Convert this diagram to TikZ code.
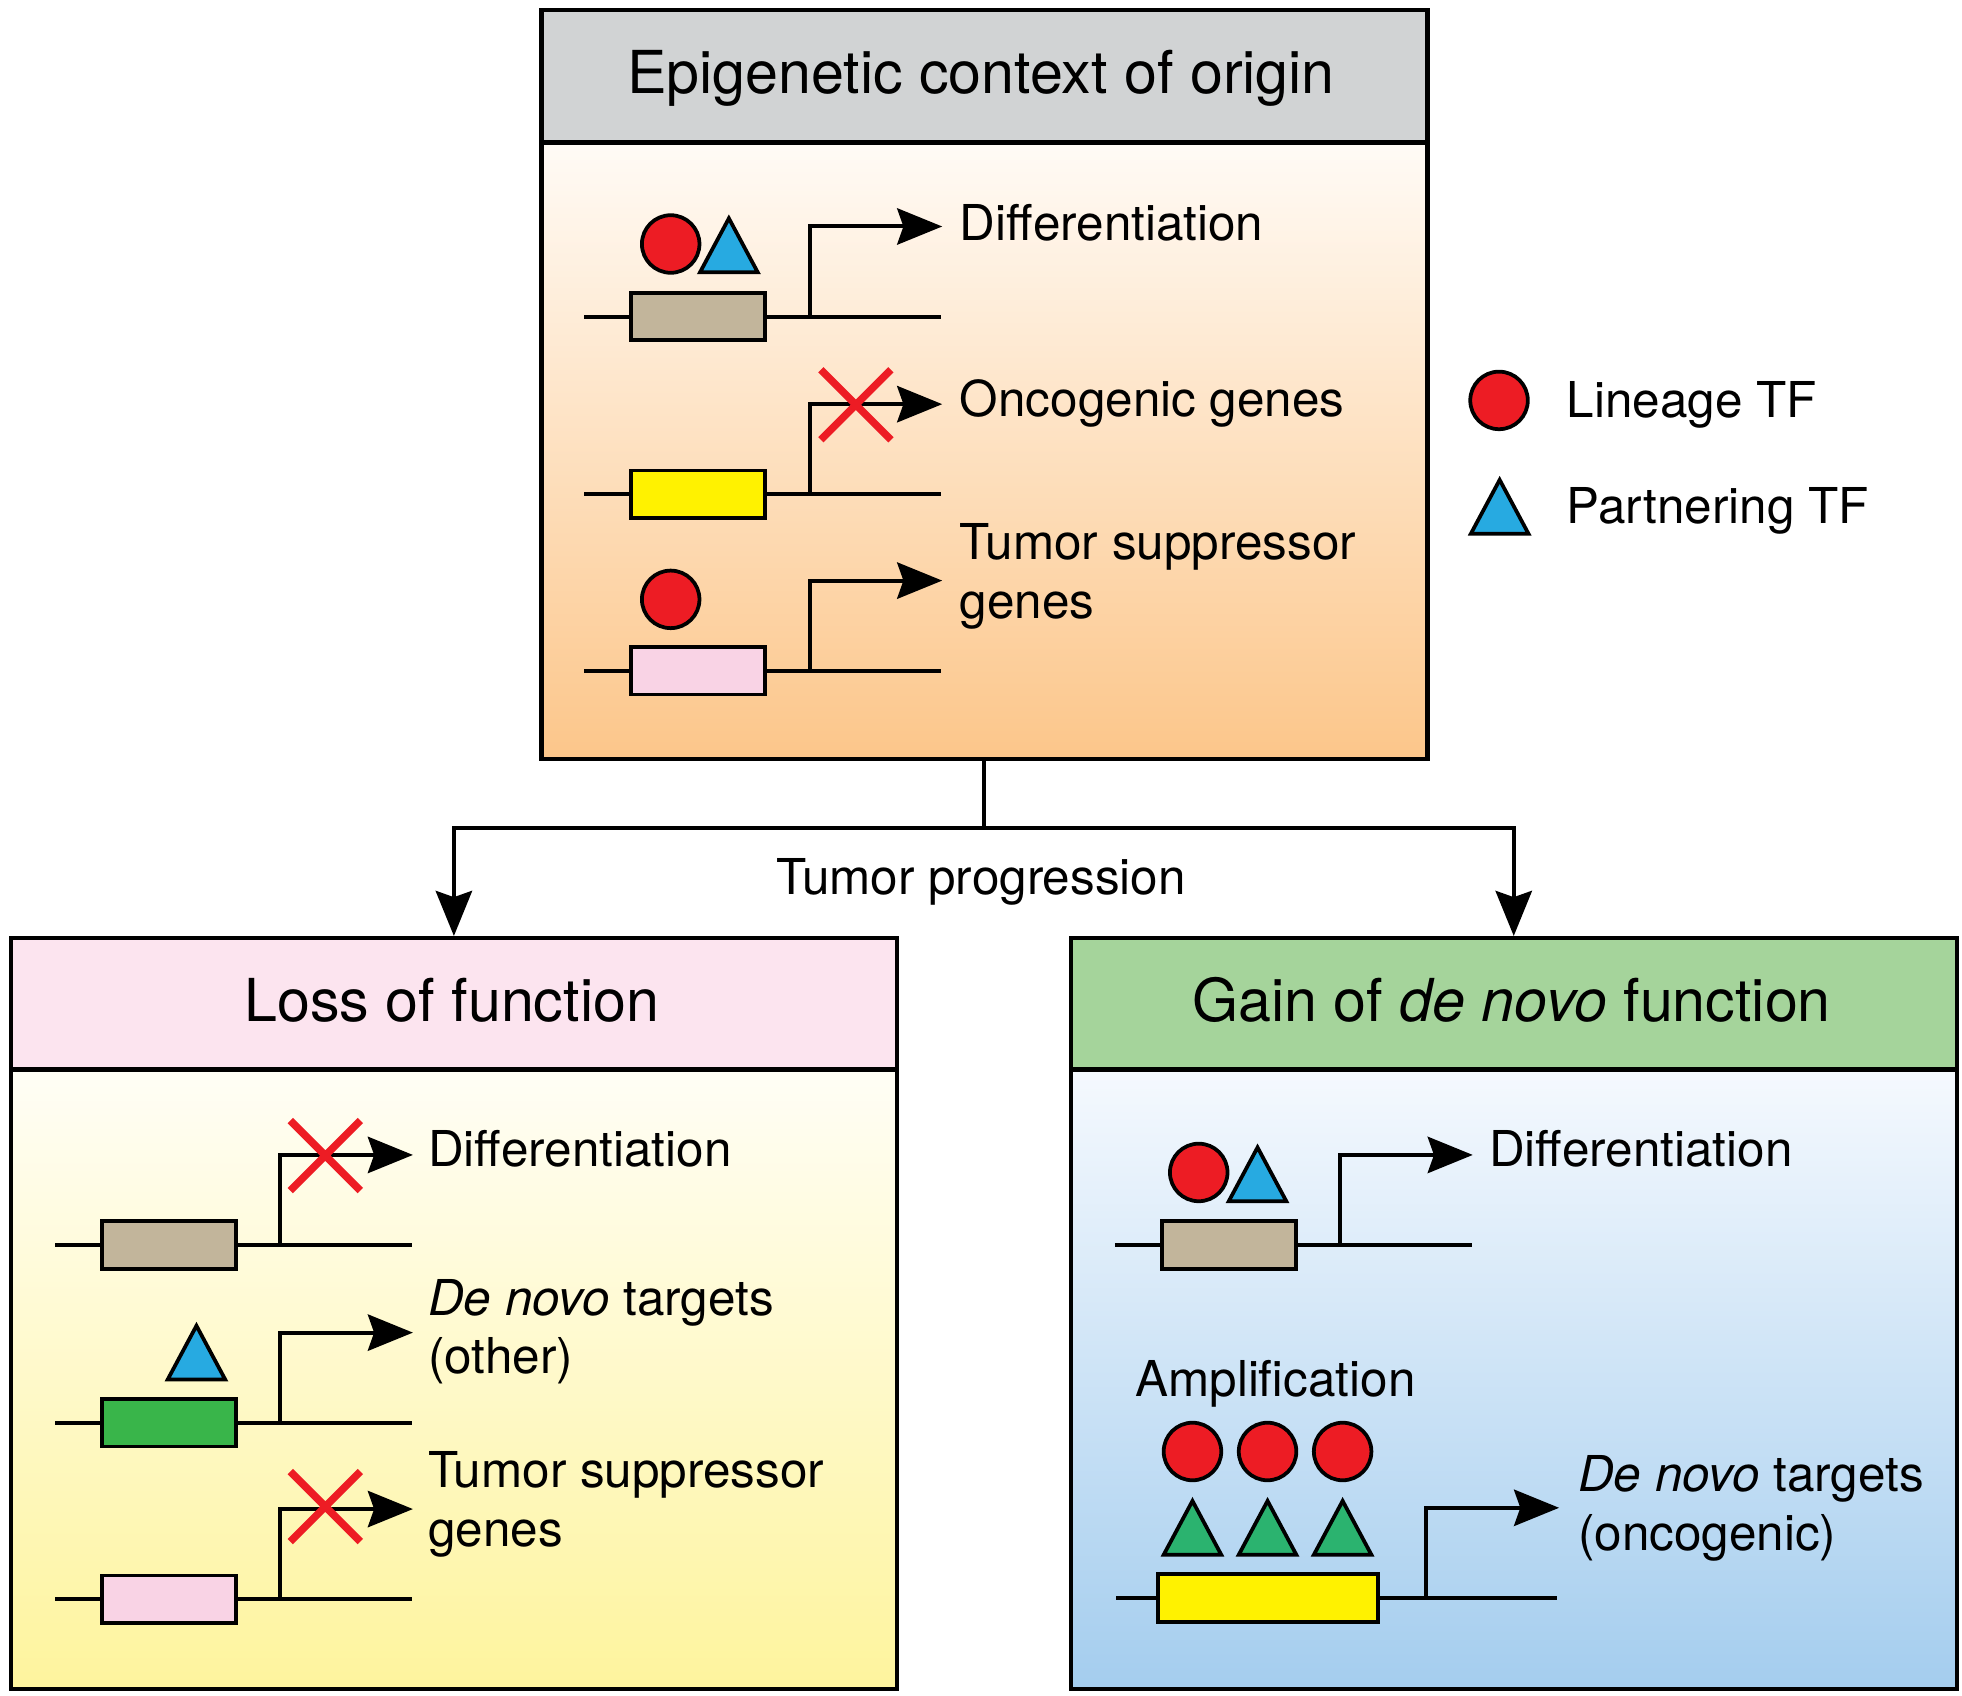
\documentclass[tikz,border=0pt]{standalone}
\usepackage{fontspec}
\setmainfont{TeX Gyre Heros}
\usetikzlibrary{arrows.meta, shapes.misc, positioning, calc}
\definecolor{headgray}{HTML}{D1D3D4}
\definecolor{topA}{HTML}{FFFBF6}
\definecolor{topB}{HTML}{FCC68A}
\definecolor{losshd}{HTML}{FCE4EF}
\definecolor{lossA}{HTML}{FFFEF6}
\definecolor{lossB}{HTML}{FEF49D}
\definecolor{gainhd}{HTML}{A5D49B}
\definecolor{gainA}{HTML}{F5F9FE}
\definecolor{gainB}{HTML}{A4CDEE}
\definecolor{tan}{HTML}{C2B59B}
\definecolor{yel}{HTML}{FFF200}
\definecolor{pnk}{HTML}{F9D3E5}
\definecolor{grn}{HTML}{39B54A}
\definecolor{tfred}{HTML}{ED1C24}
\definecolor{tfblue}{HTML}{27AAE1}
\definecolor{tfgreen}{HTML}{2BB36F}
\tikzstyle{panel}=[shape=rectangle, draw=black, line width=3.5pt, minimum width=708pt, inner sep=0pt, anchor=north west]
\tikzstyle{genebox}=[shape=rectangle, draw=black, line width=3pt, minimum width=107pt, minimum height=38pt, inner sep=0pt]
\tikzstyle{ltf}=[shape=circle, draw=black, fill=tfred, line width=3pt, minimum size=46pt, inner sep=0pt]
\tikzstyle{ptf}=[draw=black, fill=tfblue, line width=3pt]
\tikzstyle{dna}=[draw=black, line width=3.2pt]
\tikzstyle{tss}=[dna, -{Stealth[length=36pt, width=29pt, inset=5pt]}]
\tikzstyle{block}=[shape=cross out, draw=tfred, line width=6pt, minimum size=50pt, inner sep=0pt]
\tikzstyle{lbl}=[anchor=base west, align=left, inner sep=0pt, font=\fontsize{39.5}{47}\selectfont]
\tikzstyle{ttl}=[anchor=base, inner sep=0pt, font=\fontsize{47.3}{56}\selectfont]
\begin{document}
\begin{tikzpicture}[x=1pt,y=-1pt]
\useasboundingbox (0,0) rectangle (1568,1355);
% panels
\node[panel, minimum height=493pt, top color=topA, bottom color=topB] (topbody) at (431,112) {};
\node[panel, minimum height=106pt, fill=headgray] (tophead) at (431,6) {};
\node[panel, minimum height=495pt, top color=lossA, bottom color=lossB] (lossbody) at (7,853) {};
\node[panel, minimum height=105pt, fill=losshd] (losshead) at (7,748) {};
\node[panel, minimum height=495pt, top color=gainA, bottom color=gainB] (gainbody) at (854,853) {};
\node[panel, minimum height=105pt, fill=gainhd] (gainhead) at (854,748) {};
\node[ttl] (toptitle) at (784,74.5) {Epigenetic context of origin};
\node[ttl] (losstitle) at (361,816) {Loss of function};
\node[ttl] (gaintitle) at (1208,816) {Gain of \textit{de novo} function};
% tumor progression
\draw[dna] (topbody.south) -- ++(0,53.5) coordinate (split);
\draw[tss] (split) -| (losshead.north);
\draw[tss] (split) -| (gainhead.north);
\node[lbl, anchor=base] (prog) at (784,715) {Tumor progression};
% gene rows
\foreach \lx/\ly/\col/\nm in {467/253/tan/g1, 467/395/yel/g2, 467/536/pnk/g3, 44/995/tan/l1, 44/1137/grn/l2, 44/1278/pnk/l3, 891/995/tan/r1}{
	\node[genebox, fill=\col] (\nm) at (\lx+91,\ly) {};
	\draw[dna] (\lx,\ly) -- (\nm.west) (\nm.east) -- (\lx+285,\ly);
	\draw[tss] (\lx+180,\ly) |- (\lx+286,\ly-72);
}
\node[genebox, fill=yel, minimum width=176pt] (r2) at (1013.5,1277) {};
\draw[dna] (892,1277) -- (r2.west) (r2.east) -- (1244,1277);
\draw[tss] (1140,1277) |- (1246,1205);
% lineage TFs
\node[ltf] (tfg1) at (536,195) {};
\node[ltf] (tfg3) at (536,479) {};
\node[ltf] (tfr1) at (958,937) {};
\foreach \i/\tx in {1/953, 2/1013, 3/1073}{
	\node[ltf] (amp\i) at (\tx,1160) {};
	\draw[ptf, fill=tfgreen] (\tx-23,1242.5) -- (\tx,1199.5) -- (\tx+23,1242.5) -- cycle;
}
% partnering TFs
\foreach \tx/\ty in {582.5/217.5, 157/1102.5, 1005/960}{
	\draw[ptf] (\tx-23,\ty) -- (\tx,\ty-43) -- (\tx+23,\ty) -- cycle;
}
% blocked
\node[block] (x1) at (684,323.5) {};
\node[block] (x2) at (260,923.5) {};
\node[block] (x3) at (260,1204) {};
% labels
\node[lbl] (t1) at (767,192) {Differentiation};
\node[lbl] (t2) at (767,333) {Oncogenic genes};
\node[lbl] (t3) at (767,494) {Tumor suppressor\\genes};
\node[lbl] (t4) at (342,932) {Differentiation};
\node[lbl] (t5) at (342,1098) {\textit{De novo} targets\\(other)};
\node[lbl] (t6) at (342,1236) {Tumor suppressor\\genes};
\node[lbl] (t7) at (1190,932) {Differentiation};
\node[lbl] (t8) at (907,1116) {Amplification};
\node[lbl] (t9) at (1261,1239) {\textit{De novo} targets\\(oncogenic)};
% legend
\node[ltf] (legc) at (1198,320) {};
\draw[ptf] (1175.5,426.5) -- (1198.5,383.5) -- (1221.5,426.5) -- cycle;
\node[lbl] (leg1) at (1252,334) {Lineage TF};
\node[lbl] (leg2) at (1252,418) {Partnering TF};
\end{tikzpicture}
\end{document}
